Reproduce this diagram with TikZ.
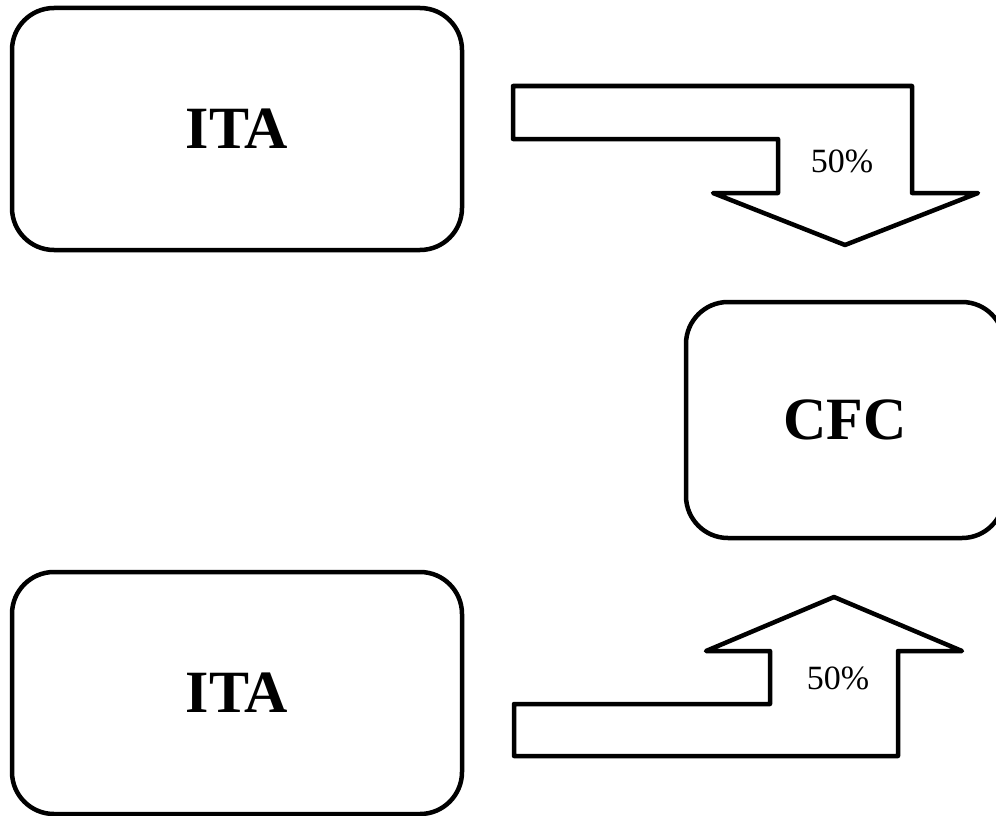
\documentclass[tikz,border=0pt]{standalone}
\usepackage{fontspec}
\setmainfont{Liberation Serif}
\begin{document}
\begin{tikzpicture}[x=1pt,y=-1pt,
  box/.style={draw=black,line width=4.5pt,rounded corners=42pt,fill=white,
    font=\fontsize{60}{72}\selectfont\bfseries,inner sep=0pt},
  blockarrow/.style={draw=black,line width=4.5pt,line join=round,fill=white},
  pct/.style={font=\fontsize{34}{40}\selectfont,inner sep=0pt}]
\useasboundingbox (0,0) rectangle (996,816);
\fill[white] (0,0) rectangle (996,816);

% source and target boxes
\node[box,minimum width=450pt,minimum height=242pt] (itaTop) at (237,129) {\raisebox{-2pt}{ITA}};
\node[box,minimum width=450pt,minimum height=242pt] (itaBot) at (237,693) {\raisebox{-2pt}{ITA}};
\node[box,minimum width=318pt,minimum height=236pt] (cfc) at (845,420) {CFC};

% upper bent block arrow pointing down to CFC
\draw[blockarrow] (513,86) -- (912,86) -- (912,193) -- (978,193) -- (845,245)
  -- (713,193) -- (778,193) -- (778,139) -- (513,139) -- cycle;
\node[pct] (pctTop) at (842,161) {50\%};

% lower bent block arrow pointing up to CFC
\draw[blockarrow] (514,756) -- (898,756) -- (898,651) -- (962,651) -- (834,597)
  -- (706,651) -- (770,651) -- (770,704) -- (514,704) -- cycle;
\node[pct] (pctBot) at (838,678) {50\%};
\end{tikzpicture}
\end{document}
